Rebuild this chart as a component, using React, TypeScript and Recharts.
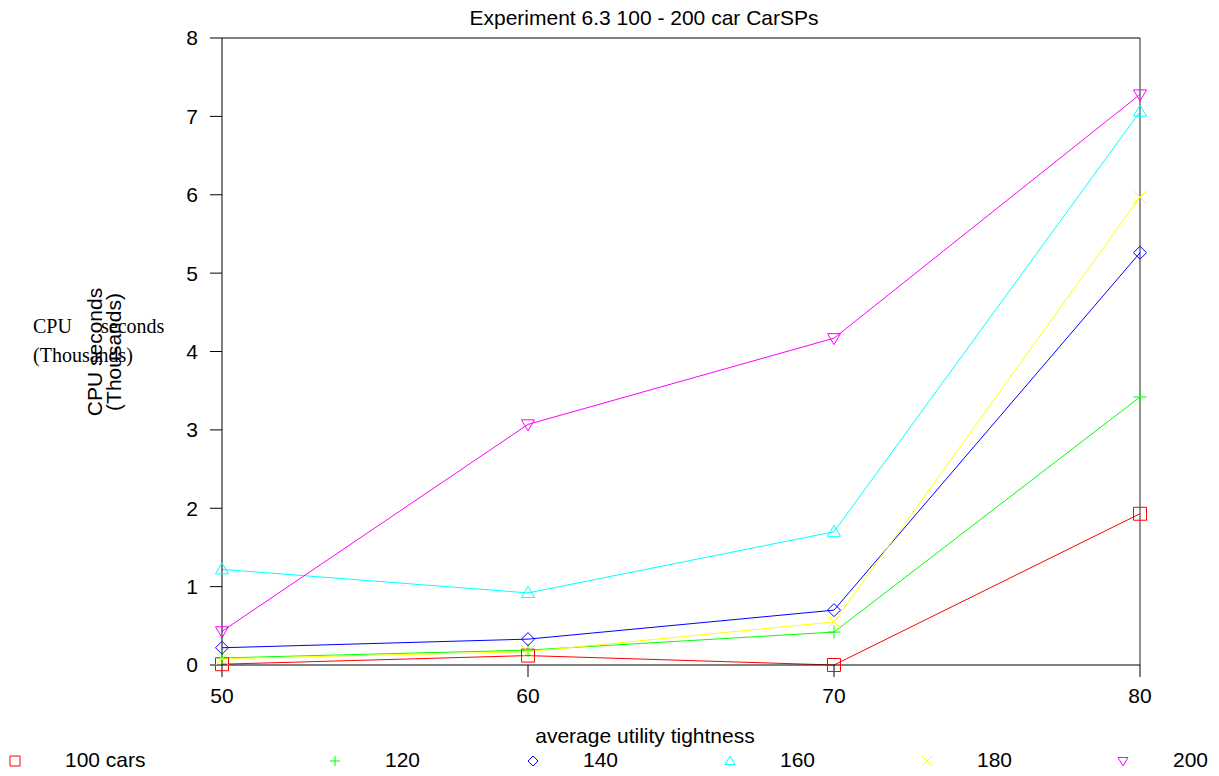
import { LineChart, Line, XAxis, YAxis, ReferenceLine, Customized } from 'recharts'

const tightness = [50, 60, 70, 80]
const cars100 = [0.01, 0.12, 0.0, 1.93]
const cars120 = [0.09, 0.19, 0.42, 3.42]
const cars140 = [0.22, 0.33, 0.7, 5.26]
const cars160 = [1.22, 0.92, 1.7, 7.06]
const cars180 = [0.08, 0.17, 0.55, 5.97]
const cars200 = [0.43, 3.07, 4.17, 7.28]
const yTicks = [0, 1, 2, 3, 4, 5, 6, 7, 8]

const FONT = '"Liberation Sans", Arial, sans-serif'
const SERIF = '"Liberation Serif", "Times New Roman", serif'

type Shape = 'square' | 'plus' | 'diamond' | 'triangle' | 'cross' | 'down'

const series: { key: string; name: string; color: string; shape: Shape; values: number[] }[] = [
  { key: 'c100', name: '100 cars', color: '#ff0000', shape: 'square', values: cars100 },
  { key: 'c120', name: '120', color: '#00ff00', shape: 'plus', values: cars120 },
  { key: 'c140', name: '140', color: '#0000ff', shape: 'diamond', values: cars140 },
  { key: 'c160', name: '160', color: '#00ffff', shape: 'triangle', values: cars160 },
  { key: 'c180', name: '180', color: '#ffff00', shape: 'cross', values: cars180 },
  { key: 'c200', name: '200', color: '#ff00ff', shape: 'down', values: cars200 },
]

const data = tightness.map((t, i) => {
  const row: Record<string, number> = { t }
  series.forEach((s) => {
    row[s.key] = s.values[i]
  })
  return row
})

const markerPath = (shape: Shape, x: number, y: number, r = 6) => {
  switch (shape) {
    case 'square':
      return `M${x - r},${y - r}H${x + r}V${y + r}H${x - r}Z`
    case 'plus':
      return `M${x - r},${y}H${x + r}M${x},${y - r}V${y + r}`
    case 'diamond':
      return `M${x},${y - r}L${x + r},${y}L${x},${y + r}L${x - r},${y}Z`
    case 'triangle':
      return `M${x},${y - r}L${x + r},${y + r * 0.7}L${x - r},${y + r * 0.7}Z`
    case 'cross':
      return `M${x - r},${y - r}L${x + r},${y + r}M${x + r},${y - r}L${x - r},${y + r}`
    case 'down':
      return `M${x - r},${y - r * 0.7}L${x + r},${y - r * 0.7}L${x},${y + r}Z`
  }
}

const makeDot = (shape: Shape, color: string) => (props: any) => {
  const { cx, cy, index } = props
  if (cx == null || cy == null) return <g key={index} />
  return <path key={index} d={markerPath(shape, cx, cy, 6.5)} stroke={color} strokeWidth={1} fill="none" />
}

// title, axis titles and the legend row
const Texts = () => (
  <g>
    <text x={644} y={25} textAnchor="middle" fontFamily={FONT} fontSize={21} fill="#000">
      Experiment 6.3 100 - 200 car CarSPs
    </text>
    <text x={645} y={743} textAnchor="middle" fontFamily={FONT} fontSize={21} fill="#000">
      average utility tightness
    </text>
    <text transform="translate(102,352) rotate(-90)" textAnchor="middle" fontFamily={FONT} fontSize={21} fill="#000">
      <tspan x={0} dy={0}>CPU seconds</tspan>
      <tspan x={0} dy={19}>(Thousands)</tspan>
    </text>
    <text x={33} y={333} fontFamily={SERIF} fontSize={20} fill="#000">CPU</text>
    <text x={101} y={333} fontFamily={SERIF} fontSize={20} fill="#000">seconds</text>
    <text x={33} y={362} fontFamily={SERIF} fontSize={20} fill="#000">(Thousands)</text>
  </g>
)

const legendX = [15, 335, 533, 730, 927, 1123]

const LegendRow = () => (
  <g>
    {series.map((s, i) => (
      <g key={s.key}>
        <path d={markerPath(s.shape, legendX[i], 761, 5)} stroke={s.color} fill="none" strokeWidth={1} />
        <text x={legendX[i] + 50} y={767} fontFamily={FONT} fontSize={21} fill="#000">
          {s.name}
        </text>
      </g>
    ))}
  </g>
)

export default function App() {
  return (
    <div style={{ position: 'absolute', left: 0, top: 0, background: '#fff' }}>
      <LineChart width={1219} height={776} data={data} margin={{ top: 38, right: 79, left: 162, bottom: 81 }}>
        <XAxis
          dataKey="t"
          type="number"
          domain={[50, 80]}
          ticks={tightness}
          tickSize={12}
          tickMargin={11}
          height={30}
          stroke="#000"
          tick={{ fill: '#000', fontFamily: FONT, fontSize: 21 }}
        />
        <YAxis
          type="number"
          domain={[0, 8]}
          ticks={yTicks}
          tickSize={12}
          tickMargin={12}
          width={60}
          stroke="#000"
          tick={{ fill: '#000', fontFamily: FONT, fontSize: 21 }}
        />
        <ReferenceLine y={8} stroke="#000" />
        <ReferenceLine x={80} stroke="#222" />
        {series.map((s) => (
          <Line
            key={s.key}
            dataKey={s.key}
            name={s.name}
            stroke={s.color}
            strokeWidth={1}
            dot={makeDot(s.shape, s.color)}
            activeDot={false}
            isAnimationActive={false}
          />
        ))}
        <Customized component={Texts} />
        <Customized component={LegendRow} />
      </LineChart>
    </div>
  )
}
